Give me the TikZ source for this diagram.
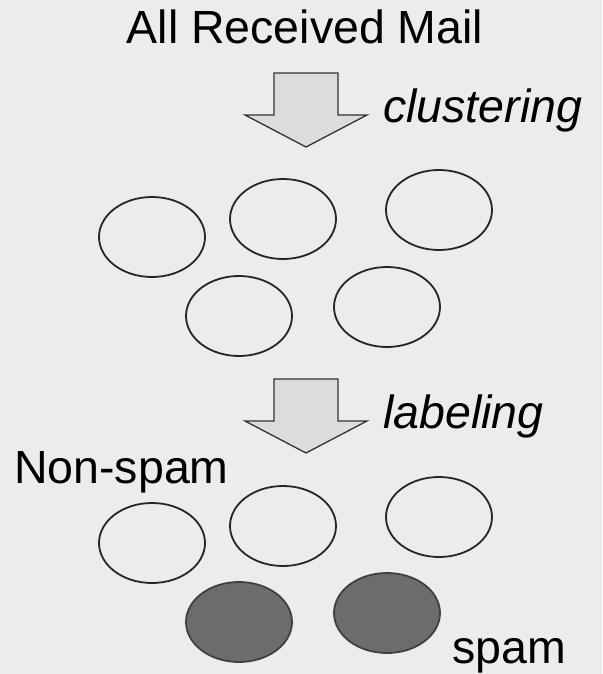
\documentclass[tikz,border=0pt]{standalone}
\usepackage{fontspec}
\setmainfont{Liberation Sans}
\usetikzlibrary{shapes.geometric}
\definecolor{bgc}{RGB}{236,236,236}
\definecolor{arrowc}{RGB}{220,220,220}
\definecolor{darkc}{RGB}{108,108,108}
\tikzset{
  lbl/.style={inner sep=0pt, font=\fontsize{46.5}{50}\selectfont},
  ilbl/.style={lbl, font=\fontsize{46.5}{50}\selectfont\itshape},
  cluster/.style={ellipse, draw=black!85, line width=1.8pt, minimum width=106pt, minimum height=80pt, inner sep=0pt},
  spamc/.style={cluster, fill=darkc, draw=black!75},
  bigarrow/.style={draw=black!80, fill=arrowc, line width=1.3pt, line join=miter}
}
\begin{document}
\begin{tikzpicture}[x=1pt,y=-1pt]
\fill[bgc] (0,0) rectangle (602,674);
\useasboundingbox (0,0) rectangle (602,674);
\node[lbl, anchor=base] (title) at (305,44) {All Received Mail};
\draw[bigarrow] (274,73) -- (338,73) -- (338,115) -- (367,115) -- (306,147) -- (245,115) -- (274,115) -- cycle;
\node[ilbl, anchor=base west] (clus) at (383,122) {clustering};
\node[cluster] (a1) at (152,237) {};
\node[cluster] (a2) at (283,219) {};
\node[cluster] (a3) at (439,210) {};
\node[cluster] (a4) at (239,316) {};
\node[cluster] (a5) at (387,307) {};
\draw[bigarrow] (274,379) -- (338,379) -- (338,421) -- (367,421) -- (306,453) -- (245,421) -- (274,421) -- cycle;
\node[ilbl, anchor=base west] (lab) at (383,428) {labeling};
\node[lbl, anchor=base west] (ns) at (14,483) {Non-spam};
\node[cluster] (b1) at (152,543) {};
\node[cluster] (b2) at (283,526) {};
\node[cluster] (b3) at (439,517) {};
\node[spamc] (b4) at (239,622) {};
\node[spamc] (b5) at (387,613) {};
\node[lbl, anchor=base west] (sp) at (452,663) {spam};
\end{tikzpicture}
\end{document}
